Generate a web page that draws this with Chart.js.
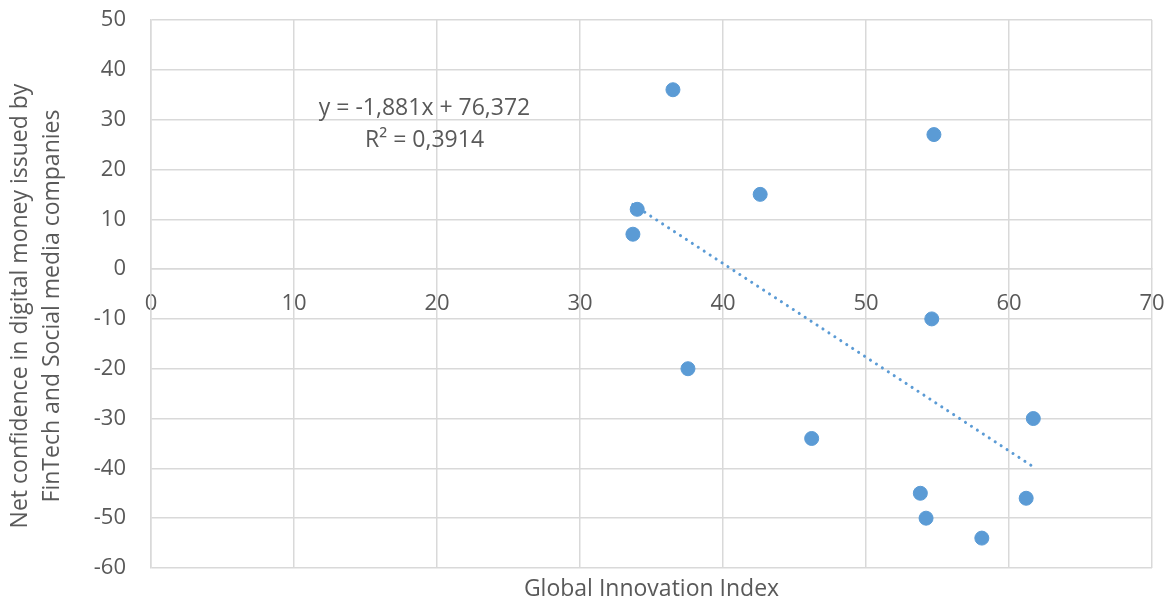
<!DOCTYPE html>
<html>
<head>
<meta charset="utf-8">
<script src="https://cdn.jsdelivr.net/npm/chart.js@4/dist/chart.umd.min.js"></script>
<style>
  html, body { margin: 0; padding: 0; background: #fff; }
  #wrap { width: 1173px; height: 606px; position: relative; }
</style>
</head>
<body>
<div id="wrap"><canvas id="c" width="1173" height="606"></canvas></div>
<script>
const innovationIndex = [36.5, 54.75, 34.0, 42.6, 33.7, 54.6, 37.55, 61.7, 46.2, 53.8, 61.2, 54.2, 58.1];
const netConfidence   = [36,   27,    12,   15,   7,    -10,  -20,   -30,  -34,  -45,  -46,  -50,  -54];
const trendSlope = -1.881;
const trendIntercept = 76.372;
const equationLines = ['y = -1,881x + 76,372', 'R² = 0,3914'];
const xTitle = 'Global Innovation Index';
const yTitle = ['Net confidence in digital money issued by', 'FinTech and Social media companies'];

const xMinData = Math.min(...innovationIndex);
const xMaxData = Math.max(...innovationIndex);
const trendPoints = [xMinData, xMaxData].map(x => ({ x: x, y: trendSlope * x + trendIntercept }));
const points = innovationIndex.map((x, i) => ({ x: x, y: netConfidence[i] }));

const FONT = '"Open Sans", "Liberation Sans", sans-serif';
const GREY = '#595959';
const GRID = '#d9d9d9';
const BLUE = '#5b9bd5';

const textPlugin = {
  id: 'texts',
  afterDatasetsDraw(chart) {
    const ctx = chart.ctx;
    const xs = chart.scales.x, ys = chart.scales.y;
    const area = chart.chartArea;
    ctx.save();
    ctx.fillStyle = GREY;
    ctx.textAlign = 'center';
    ctx.textBaseline = 'middle';
    // trendline equation
    ctx.font = '23px ' + FONT;
    ctx.fillText(equationLines[0], xs.getPixelForValue(19.13), ys.getPixelForValue(32.3));
    ctx.fillText(equationLines[1], xs.getPixelForValue(19.13), ys.getPixelForValue(25.9));
    // x axis title
    ctx.fillText(xTitle, (area.left + area.right) / 2, area.bottom + 21);
    // y axis title (two lines, rotated)
    const cy = (area.top + area.bottom) / 2 + 12;
    ctx.translate(0, cy);
    ctx.rotate(-Math.PI / 2);
    ctx.fillText(yTitle[0], 0, 20);
    ctx.fillText(yTitle[1], 0, 52);
    ctx.restore();
  }
};

new Chart(document.getElementById('c'), {
  type: 'scatter',
  data: {
    datasets: [
      {
        label: 'Points',
        data: points,
        backgroundColor: BLUE,
        borderColor: BLUE,
        pointRadius: 7,
        pointBorderWidth: 1,
        order: 1
      },
      {
        label: 'Trend',
        type: 'line',
        data: trendPoints,
        borderColor: BLUE,
        borderWidth: 3,
        borderDash: [0.1, 7],
        borderCapStyle: 'round',
        pointRadius: 0,
        fill: false,
        order: 2
      }
    ]
  },
  options: {
    responsive: false,
    animation: false,
    devicePixelRatio: 1,
    layout: { padding: { top: 20, right: 21, left: 0, bottom: 0 } },
    plugins: { legend: { display: false }, tooltip: { enabled: false } },
    scales: {
      x: {
        type: 'linear',
        position: { y: 0 },
        min: 0, max: 70,
        ticks: { stepSize: 10, color: GREY, font: { family: FONT, size: 22 }, padding: 21, maxRotation: 0 },
        grid: { color: GRID, lineWidth: 1.5, drawTicks: false },
        border: { display: true, color: GRID, width: 1.5 },
        afterFit(scale) { scale.height = 0; scale.paddingLeft = 0; scale.paddingRight = 0; }
      },
      x2: {
        type: 'linear',
        position: 'bottom',
        min: 0, max: 70,
        ticks: { display: false },
        grid: { display: false, drawTicks: false },
        border: { display: false },
        afterFit(scale) { scale.height = 38; }
      },
      y: {
        type: 'linear',
        min: -60, max: 50,
        ticks: { stepSize: 10, color: GREY, font: { family: FONT, size: 22 }, padding: 25 },
        grid: { color: GRID, lineWidth: 1.5, drawTicks: false },
        border: { display: true, color: GRID, width: 1.5 },
        afterFit(scale) { scale.width = 151; scale.paddingTop = 0; scale.paddingBottom = 0; }
      }
    }
  },
  plugins: [textPlugin]
});
</script>
</body>
</html>
